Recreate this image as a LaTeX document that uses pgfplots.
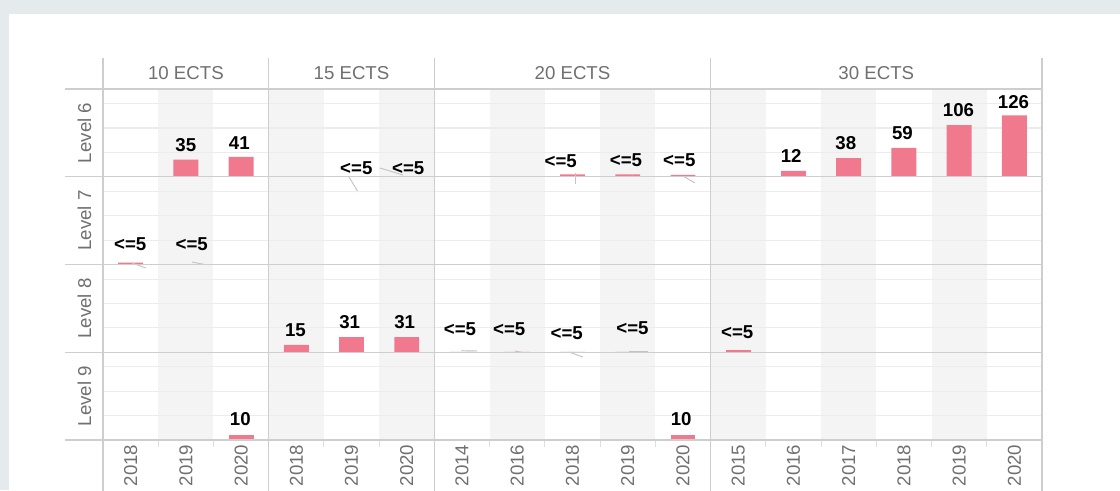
\documentclass[border=0pt]{standalone}
\usepackage{fontspec}
\setmainfont{Liberation Sans}
\usepackage{pgfplots}
\pgfplotsset{compat=1.18}
\definecolor{barpink}{RGB}{241,121,141}
\definecolor{outerbg}{RGB}{229,234,237}
\definecolor{shadecol}{RGB}{244,244,244}
\definecolor{gridcol}{RGB}{236,236,236}
\definecolor{bordercol}{RGB}{206,206,206}
\definecolor{tickcol}{RGB}{222,222,222}
\definecolor{txtgray}{RGB}{112,112,112}
\definecolor{leadcol}{RGB}{195,195,195}
\newcommand\txtfont{\fontsize{14}{16}\selectfont}
\pgfplotsset{
  panel/.style={scale only axis, height=65.8125pt, ymin=0, ymax=180,
    xmin=-0.5, anchor=south west, clip=false, axis line style={draw=none},
    major tick length=0pt, ytick=\empty, xtick=\empty},
  bars/.style={ybar, bar width=0.45, fill=barpink, draw=none},
  labs/.style={draw=none, mark=none, nodes near coords, point meta=explicit symbolic,
    nodes near coords align={center},
    nodes near coords style={anchor=center, font=\txtfont\bfseries, text=black, inner sep=0pt}},
  lead/.style={leadcol, line width=0.7pt, mark=none},
  years/.style={xticklabel style={rotate=90, anchor=east, font=\txtfont, text=txtgray}},
}
% shading of alternate year slots
\newcommand\shadeA{\fill[shadecol] (axis cs:0.5,0) rectangle (axis cs:1.5,180);}
\newcommand\shadeB{\fill[shadecol] (axis cs:-0.5,0) rectangle (axis cs:0.5,180);
  \fill[shadecol] (axis cs:1.5,0) rectangle (axis cs:2.5,180);}
\newcommand\shadeC{\fill[shadecol] (axis cs:0.5,0) rectangle (axis cs:1.5,180);
  \fill[shadecol] (axis cs:2.5,0) rectangle (axis cs:3.5,180);}
\newcommand\shadeD{\fill[shadecol] (axis cs:-0.5,0) rectangle (axis cs:0.5,180);
  \fill[shadecol] (axis cs:1.5,0) rectangle (axis cs:2.5,180);
  \fill[shadecol] (axis cs:3.5,0) rectangle (axis cs:4.5,180);}
\newcommand\grids[1]{\draw[gridcol, line width=0.9pt] (axis cs:-0.5,50) -- (axis cs:#1,50);
  \draw[gridcol, line width=0.9pt] (axis cs:-0.5,100) -- (axis cs:#1,100);
  \draw[gridcol, line width=0.9pt] (axis cs:-0.5,150) -- (axis cs:#1,150);}
\begin{document}
\begin{tikzpicture}
\useasboundingbox (0pt,0pt) rectangle (840pt,-367.5pt);
\clip (0pt,0pt) rectangle (840pt,-367.5pt);
\begin{scope}[x=0.75pt,y=-0.75pt]
\fill[outerbg] (0,0) rectangle (1120,490);
\fill[white] (9,14) rectangle (1125,495);
\end{scope}

%%%%%%%%%%%% Level 6 %%%%%%%%%%%%
\begin{axis}[panel, width=124.278pt, xmax=2.5, at={(77.25pt,-132.5625pt)}]
\shadeA \grids{2.5}
\addplot[bars] coordinates {(1,35) (2,41)};
\addplot[labs] coordinates {(1.0,64.5) [35] (1.968,69.8) [41]};
\end{axis}
\begin{axis}[panel, width=124.278pt, xmax=2.5, at={(201.528pt,-132.5625pt)}]
\shadeB \grids{2.5}
\addplot[bars] coordinates {(1,1) (2,1)};
\addplot[lead] coordinates {(0.954,-0.5) (1.117,-31.3)};
\addplot[lead] coordinates {(1.515,17.9) (1.931,3.6)};
\addplot[labs] coordinates {(1.086,17.5) [<=5] (2.027,17.6) [<=5]};
\end{axis}
\begin{axis}[panel, width=207.13pt, xmax=4.5, at={(325.806pt,-132.5625pt)}]
\shadeC \grids{4.5}
\addplot[bars] coordinates {(2,5) (3,5) (4,4)};
\addplot[lead] coordinates {(2.058,7.7) (2.058,-14.9)};
\addplot[lead] coordinates {(3.072,2.2) (3.253,-12.2)};
\addplot[lead] coordinates {(4.001,1.5) (4.218,-12.8)};
\addplot[labs] coordinates {(1.787,32.7) [<=5] (2.969,34.4) [<=5] (3.934,34.4) [<=5]};
\end{axis}
\begin{axis}[panel, width=248.556pt, xmax=5.5, at={(532.936pt,-132.5625pt)}]
\shadeD \grids{5.5}
\addplot[bars] coordinates {(1,12) (2,38) (3,59) (4,106) (5,126)};
\addplot[labs] coordinates {(0.959,42.2) [12] (1.948,69.2) [38] (2.974,89.7) [59] (3.988,136.3) [106] (4.984,152.3) [126]};
\end{axis}

%%%%%%%%%%%% Level 7 %%%%%%%%%%%%
\begin{axis}[panel, width=124.278pt, xmax=2.5, at={(77.25pt,-198.375pt)}]
\shadeA \grids{2.5}
\addplot[bars] coordinates {(0,4) (1,1)};
\addplot[lead] coordinates {(0.025,3.1) (0.279,-7.2)};
\addplot[lead] coordinates {(1.111,5.1) (1.383,-1.0)};
\addplot[labs] coordinates {(-0.006,41) [<=5] (1.106,41) [<=5]};
\end{axis}
\begin{axis}[panel, width=124.278pt, xmax=2.5, at={(201.528pt,-198.375pt)}]
\shadeB \grids{2.5}
\end{axis}
\begin{axis}[panel, width=207.13pt, xmax=4.5, at={(325.806pt,-198.375pt)}]
\shadeC \grids{4.5}
\end{axis}
\begin{axis}[panel, width=248.556pt, xmax=5.5, at={(532.936pt,-198.375pt)}]
\shadeD \grids{5.5}
\end{axis}

%%%%%%%%%%%% Level 8 %%%%%%%%%%%%
\begin{axis}[panel, width=124.278pt, xmax=2.5, at={(77.25pt,-264.1875pt)}]
\shadeA \grids{2.5}
\end{axis}
\begin{axis}[panel, width=124.278pt, xmax=2.5, at={(201.528pt,-264.1875pt)}]
\shadeB \grids{2.5}
\addplot[bars] coordinates {(0,15) (1,31) (2,31)};
\addplot[labs] coordinates {(-0.015,46.3) [15] (0.966,61) [31] (1.962,61) [31]};
\end{axis}
\begin{axis}[panel, width=207.13pt, xmax=4.5, at={(325.806pt,-264.1875pt)}]
\shadeC \grids{4.5}
\addplot[bars] coordinates {(0,1) (1,1) (2,1) (3,1)};
\addplot[lead] coordinates {(-0.012,3.2) (0.278,2.6)};
\addplot[lead] coordinates {(0.959,2.6) (1.14,-1.5)};
\addplot[lead] coordinates {(1.933,0.5) (2.186,-9.7)};
\addplot[lead] coordinates {(3.02,2.6) (3.365,2.6)};
\addplot[labs] coordinates {(-0.037,48.1) [<=5] (0.854,47.1) [<=5] (1.895,40.1) [<=5] (3.087,49.1) [<=5]};
\end{axis}
\begin{axis}[panel, width=248.556pt, xmax=5.5, at={(532.936pt,-264.1875pt)}]
\shadeD \grids{5.5}
\addplot[bars] coordinates {(0,4)};
\addplot[lead] coordinates {(0.177,0.5) (0.268,-5.6)};
\addplot[labs] coordinates {(-0.017,42.2) [<=5]};
\end{axis}

%%%%%%%%%%%% Level 9 %%%%%%%%%%%%
\begin{axis}[panel, years, width=124.278pt, xmax=2.5, at={(77.25pt,-330pt)},
  xtick={0,1,2}, xticklabels={2018,2019,2020}]
\shadeA \grids{2.5}
\addplot[bars] coordinates {(2,10)};
\addplot[labs] coordinates {(1.986,42.7) [10]};
\end{axis}
\begin{axis}[panel, years, width=124.278pt, xmax=2.5, at={(201.528pt,-330pt)},
  xtick={0,1,2}, xticklabels={2018,2019,2020}]
\shadeB \grids{2.5}
\end{axis}
\begin{axis}[panel, years, width=207.13pt, xmax=4.5, at={(325.806pt,-330pt)},
  xtick={0,1,2,3,4}, xticklabels={2014,2016,2018,2019,2020}]
\shadeC \grids{4.5}
\addplot[bars] coordinates {(4,10)};
\addplot[labs] coordinates {(3.968,43.1) [10]};
\end{axis}
\begin{axis}[panel, years, width=248.556pt, xmax=5.5, at={(532.936pt,-330pt)},
  xtick={0,1,2,3,4,5}, xticklabels={2015,2016,2017,2018,2019,2020}]
\shadeD \grids{5.5}
\end{axis}

%%%%%%%%%%%% frame, strips %%%%%%%%%%%%
\begin{scope}[x=0.75pt,y=-0.75pt]
\foreach \xx in {158.2,213.5,323.9,379.2,489.6,544.9,600.1,655.4,765.8,821.1,876.3,931.5,986.8}
  \draw[tickcol, line width=0.8pt] (\xx,440) -- (\xx,447);
\foreach \yy in {89,176.75,264.5,352.25,440}
  \draw[bordercol, line width=1.1pt] (65,\yy) -- (1042,\yy);
\foreach \xx in {103,268.7,434.4,710.6,1042}
  \draw[bordercol, line width=1.1pt] (\xx,58) -- (\xx,495);
\node[text=txtgray, font=\txtfont] at (185.9,73.3) {10 ECTS};
\node[text=txtgray, font=\txtfont] at (351.5,73.3) {15 ECTS};
\node[text=txtgray, font=\txtfont] at (572.5,73.3) {20 ECTS};
\node[text=txtgray, font=\txtfont] at (876.3,73.3) {30 ECTS};
\node[text=txtgray, font=\txtfont, rotate=90] at (84.5,132.9) {Level 6};
\node[text=txtgray, font=\txtfont, rotate=90] at (84.5,220.6) {Level 7};
\node[text=txtgray, font=\txtfont, rotate=90] at (84.5,308.4) {Level 8};
\node[text=txtgray, font=\txtfont, rotate=90] at (84.5,396.1) {Level 9};
\end{scope}
\end{tikzpicture}
\end{document}
